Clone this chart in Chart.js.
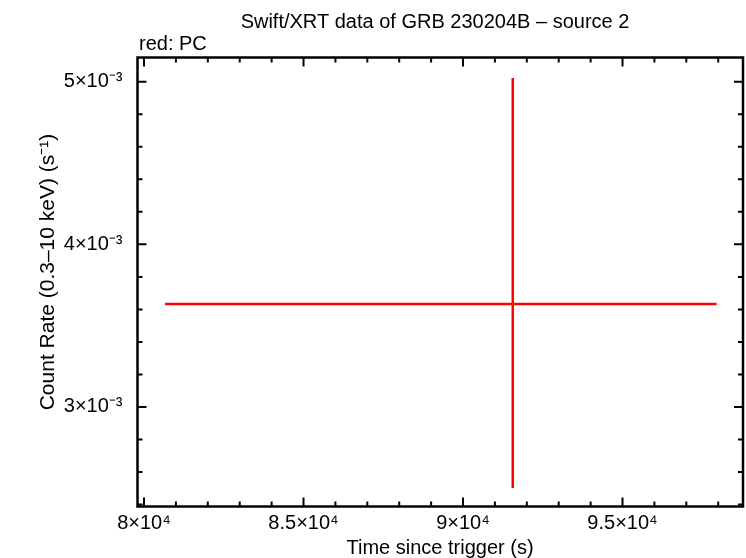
<!DOCTYPE html>
<html>
<head>
<meta charset="utf-8">
<script src="https://cdn.jsdelivr.net/npm/chart.js@4.4.1/dist/chart.umd.min.js"></script>
<style>
  html, body { margin: 0; padding: 0; background: #fff; }
  #wrap { width: 746px; height: 558px; }
</style>
</head>
<body>
<div id="wrap"><canvas id="myChart" width="746" height="558"></canvas></div>
<script>
// Dados do gráfico (um único ponto PC com barras de erro)
const timeVals = [91560];
const timeLo = [80660];
const timeHi = [97950];
const rateVals = [0.003633];
const rateLo = [0.002502];
const rateHi = [0.005023];

// Ticks dos eixos
const xTickVals = [80000, 85000, 90000, 95000];
const xTickLabels = ['8×10⁴', '8.5×10⁴', '9×10⁴', '9.5×10⁴'];
const xMinorStep = 1000;
const yTickVals = [0.003, 0.004, 0.005];
const yTickLabels = ['3×10⁻³', '4×10⁻³', '5×10⁻³'];
const yMinorStep = 0.0002;

const FONT = '"Liberation Sans", Arial, sans-serif';

// Plugin: moldura, ticks para dentro, barras de erro e textos
const framePlugin = {
    id: 'frame',
    afterDatasetsDraw(chart) {
        const { ctx, chartArea: a, scales: { x, y } } = chart;
        ctx.save();

        // barras de erro
        ctx.strokeStyle = '#ff0000';
        ctx.lineWidth = 2.5;
        for (let i = 0; i < timeVals.length; i++) {
            const px = x.getPixelForValue(timeVals[i]);
            const py = y.getPixelForValue(rateVals[i]);
            ctx.beginPath();
            ctx.moveTo(x.getPixelForValue(timeLo[i]), py);
            ctx.lineTo(x.getPixelForValue(timeHi[i]), py);
            ctx.moveTo(px, y.getPixelForValue(rateLo[i]));
            ctx.lineTo(px, y.getPixelForValue(rateHi[i]));
            ctx.stroke();
        }

        // moldura
        ctx.strokeStyle = '#000';
        ctx.lineWidth = 2.5;
        ctx.strokeRect(a.left, a.top, a.right - a.left, a.bottom - a.top);

        // ticks do eixo x (menores e maiores)
        ctx.lineWidth = 2;
        ctx.beginPath();
        const x0 = Math.ceil(x.min / xMinorStep) * xMinorStep;
        for (let v = x0; v <= x.max; v += xMinorStep) {
            const px = x.getPixelForValue(v);
            const len = xTickVals.includes(v) ? 9 : 5;
            ctx.moveTo(px, a.bottom); ctx.lineTo(px, a.bottom - len);
            ctx.moveTo(px, a.top); ctx.lineTo(px, a.top + len);
        }
        // ticks do eixo y
        const yStart = Math.ceil(y.min / yMinorStep);
        for (let k = yStart; k * yMinorStep <= y.max; k++) {
            const v = k * yMinorStep;
            const py = y.getPixelForValue(v);
            const len = (k % 5 === 0) ? 9 : 5;
            ctx.moveTo(a.left, py); ctx.lineTo(a.left + len, py);
            ctx.moveTo(a.right, py); ctx.lineTo(a.right - len, py);
        }
        ctx.stroke();

        // títulos
        ctx.fillStyle = '#000';
        ctx.textBaseline = 'alphabetic';
        ctx.font = '20px ' + FONT;
        ctx.textAlign = 'center';
        ctx.fillText('Swift/XRT data of GRB 230204B – source 2', 435, 28);
        ctx.textAlign = 'left';
        ctx.fillText('red: PC', 139, 50);
        ctx.textAlign = 'center';
        ctx.fillText('Time since trigger (s)', 440, 554);
        ctx.translate(54, 272);
        ctx.rotate(-Math.PI / 2);
        ctx.font = '21px ' + FONT;
        ctx.fillText('Count Rate (0.3–10 keV) (s⁻¹)', 0, 0);
        ctx.restore();
    }
};

const ctx = document.getElementById('myChart').getContext('2d');

const myChart = new Chart(ctx, {
    type: 'scatter',
    data: {
        datasets: [{
            label: 'PC',
            data: timeVals.map((t, i) => ({ x: t, y: rateVals[i] })),
            pointRadius: 0,
            showLine: false
        }]
    },
    options: {
        responsive: false,
        animation: false,
        layout: { padding: { left: 0, top: 57.5, right: 3, bottom: 0 } },
        scales: {
            x: {
                type: 'linear',
                min: 79796,
                max: 98777,
                grid: { display: false, drawTicks: false },
                border: { display: false },
                afterBuildTicks: s => { s.ticks = xTickVals.map(v => ({ value: v })); },
                afterFit: s => { s.height = 51.5; },
                ticks: {
                    color: '#000',
                    padding: 5,
                    maxRotation: 0,
                    autoSkip: false,
                    font: { family: FONT, size: 20 },
                    callback: v => xTickLabels[xTickVals.indexOf(v)]
                }
            },
            y: {
                type: 'linear',
                min: 0.002388,
                max: 0.005149,
                grid: { display: false, drawTicks: false },
                border: { display: false },
                afterBuildTicks: s => { s.ticks = yTickVals.map(v => ({ value: v })); },
                afterFit: s => { s.width = 137.5; },
                ticks: {
                    color: '#000',
                    padding: 15,
                    autoSkip: false,
                    font: { family: FONT, size: 20 },
                    callback: v => yTickLabels[yTickVals.findIndex(t => Math.abs(t - v) < 1e-9)]
                }
            }
        },
        plugins: {
            legend: { display: false },
            tooltip: { enabled: false }
        }
    },
    plugins: [framePlugin]
});
</script>
</body>
</html>
